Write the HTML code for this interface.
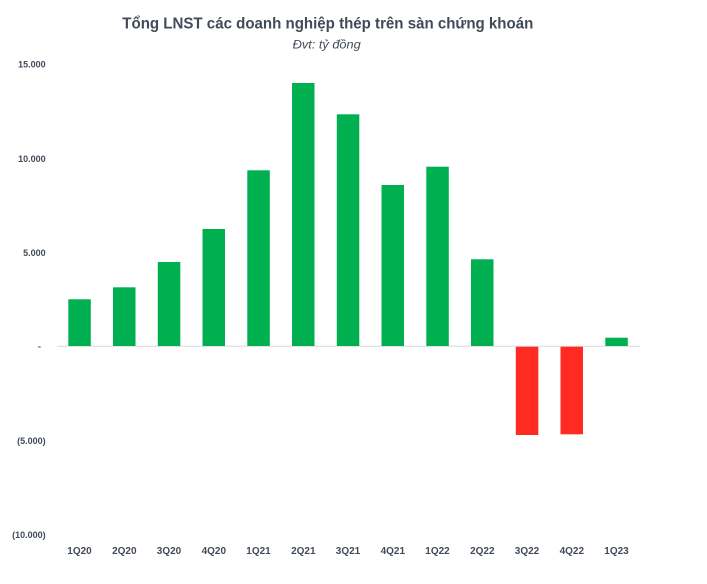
<!DOCTYPE html>
<html>
<head>
<meta charset="utf-8">
<style>
html,body{margin:0;padding:0;background:#ffffff;}
svg{display:block;}
text{font-family:"Liberation Sans",Arial,sans-serif;fill:#424a58;}
</style>
</head>
<body>
<svg width="707" height="584" viewBox="0 0 707 584" xmlns="http://www.w3.org/2000/svg">
<rect x="0" y="0" width="707" height="584" fill="#ffffff"/>
<!-- Title -->
<text x="122.3" y="28.7" font-size="15.5" font-weight="bold" textLength="411" lengthAdjust="spacingAndGlyphs">Tổng LNST các doanh nghiệp thép trên sàn chứng khoán</text>
<text x="292.7" y="48.3" font-size="11.5" font-style="italic" textLength="68" lengthAdjust="spacingAndGlyphs">Đvt: tỷ đồng</text>

<!-- Y tick labels -->
<g font-size="9" font-weight="bold" text-anchor="end">
<text x="45.7" y="67.5">15.000</text>
<text x="45.7" y="161.9">10.000</text>
<text x="45.7" y="255.9">5.000</text>
<text x="41" y="349.7">-</text>
<text x="45.7" y="443.9">(5.000)</text>
<text x="45.7" y="538.2">(10.000)</text>
</g>

<!-- Axis line -->
<line x1="57" y1="346.3" x2="640" y2="346.3" stroke="#d9d9d9" stroke-width="1"/>

<!-- Bars -->
<g fill="#00b050">
<rect x="68.3" y="299.3" width="22.5" height="46.7"/>
<rect x="113" y="287.3" width="22.5" height="58.7"/>
<rect x="157.8" y="262" width="22.5" height="84"/>
<rect x="202.5" y="229" width="22.5" height="117"/>
<rect x="247.3" y="170.3" width="22.5" height="175.7"/>
<rect x="292" y="83" width="22.5" height="263"/>
<rect x="336.8" y="114.3" width="22.5" height="231.7"/>
<rect x="381.5" y="185" width="22.5" height="161"/>
<rect x="426.3" y="166.7" width="22.5" height="179.3"/>
<rect x="471" y="259.3" width="22.5" height="86.7"/>
<rect x="605.3" y="337.7" width="22.5" height="8.3"/>
</g>
<g fill="#ff2a20">
<rect x="515.8" y="346.7" width="22.5" height="88.3"/>
<rect x="560.5" y="346.7" width="22.5" height="87.6"/>
</g>

<!-- X labels -->
<g font-size="10" font-weight="bold" text-anchor="middle">
<text x="79.5" y="554">1Q20</text>
<text x="124.3" y="554">2Q20</text>
<text x="169" y="554">3Q20</text>
<text x="213.8" y="554">4Q20</text>
<text x="258.5" y="554">1Q21</text>
<text x="303.3" y="554">2Q21</text>
<text x="348" y="554">3Q21</text>
<text x="392.8" y="554">4Q21</text>
<text x="437.5" y="554">1Q22</text>
<text x="482.3" y="554">2Q22</text>
<text x="527" y="554">3Q22</text>
<text x="571.8" y="554">4Q22</text>
<text x="616.5" y="554">1Q23</text>
</g>
</svg>
</body>
</html>
